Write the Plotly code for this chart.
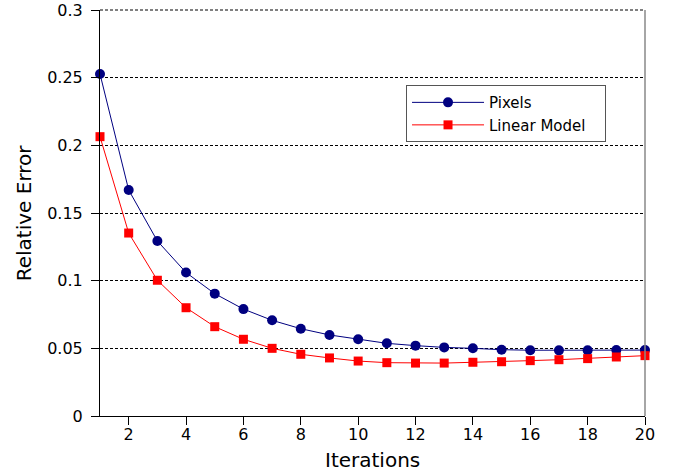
import plotly.graph_objects as go

iterations = list(range(1, 21))
pixels = [0.2527, 0.167, 0.1293, 0.106, 0.0904, 0.079, 0.0707, 0.0645, 0.0599, 0.0567,
          0.0537, 0.052, 0.0507, 0.0500, 0.0490, 0.0486, 0.0485, 0.0485, 0.0487, 0.0487]
linear_model = [0.2064, 0.1352, 0.1003, 0.080, 0.066, 0.0567, 0.050, 0.0456, 0.0429, 0.0406,
                0.0394, 0.0391, 0.0391, 0.0397, 0.0401, 0.0409, 0.0416, 0.0424, 0.0436, 0.0446]
y_ticks = [0, 0.05, 0.1, 0.15, 0.2, 0.25, 0.3]
y_tick_labels = ["0", "0.05", "0.1", "0.15", "0.2", "0.25", "0.3"]
x_ticks = [2, 4, 6, 8, 10, 12, 14, 16, 18, 20]

fig = go.Figure()
fig.add_trace(go.Scatter(x=iterations, y=pixels, name="Pixels", mode="lines+markers",
                         line=dict(color="#000080", width=1),
                         marker=dict(symbol="circle", size=10, color="#000080"),
                         cliponaxis=False))
fig.add_trace(go.Scatter(x=iterations, y=linear_model, name="Linear Model\u00a0\u00a0\u00a0",
                         mode="lines+markers",
                         line=dict(color="#ff0000", width=1),
                         marker=dict(symbol="square", size=9, color="#ff0000"),
                         cliponaxis=False))

fig.update_layout(
    width=677, height=476,
    margin=dict(l=100, r=32, t=10, b=60, autoexpand=False),
    paper_bgcolor="white", plot_bgcolor="white",
    font=dict(family="DejaVu Sans", size=16, color="black"),
    showlegend=True,
    legend=dict(x=0.5615, y=0.815, xanchor="left", yanchor="top",
                bordercolor="#555555", borderwidth=1, bgcolor="white",
                font=dict(size=15), tracegroupgap=0, itemwidth=72),
    xaxis=dict(range=[1, 20], tickvals=x_ticks, ticks="outside", ticklen=8,
               tickcolor="black", showline=True, linecolor="black", linewidth=1,
               showgrid=False, zeroline=False, automargin=False, ticklabelstandoff=-4,
               ticklabeloverflow="allow"),
    yaxis=dict(range=[0, 0.3], tickvals=y_ticks, ticktext=y_tick_labels, ticks="outside",
               ticklen=8, tickcolor="black", showline=True, linecolor="black", linewidth=1,
               showgrid=True, gridcolor="black", griddash="3px,2px", gridwidth=1,
               zeroline=False, automargin=False, ticklabelstandoff=5,
               ticklabeloverflow="allow"),
    annotations=[
        dict(text="Iterations", xref="paper", yref="paper", x=0.5, y=-0.108,
             xanchor="center", yanchor="middle", showarrow=False, font=dict(size=20)),
        dict(text="Relative Error", xref="paper", yref="paper", x=-0.139, y=0.5,
             xanchor="center", yanchor="middle", textangle=-90, showarrow=False,
             font=dict(size=20)),
    ],
)
# top dashed frame line (grid at the upper edge) and right border line
fig.add_shape(type="line", xref="paper", yref="paper", x0=0, x1=1, y0=1, y1=1,
              line=dict(color="black", width=1, dash="3px,2px"), layer="below")
fig.add_shape(type="line", xref="paper", yref="paper", x0=1, x1=1, y0=0, y1=1,
              line=dict(color="#888888", width=1.5))

fig.write_html("out.html", config={"displayModeBar": False},
               post_script="document.body.style.margin='0';")
